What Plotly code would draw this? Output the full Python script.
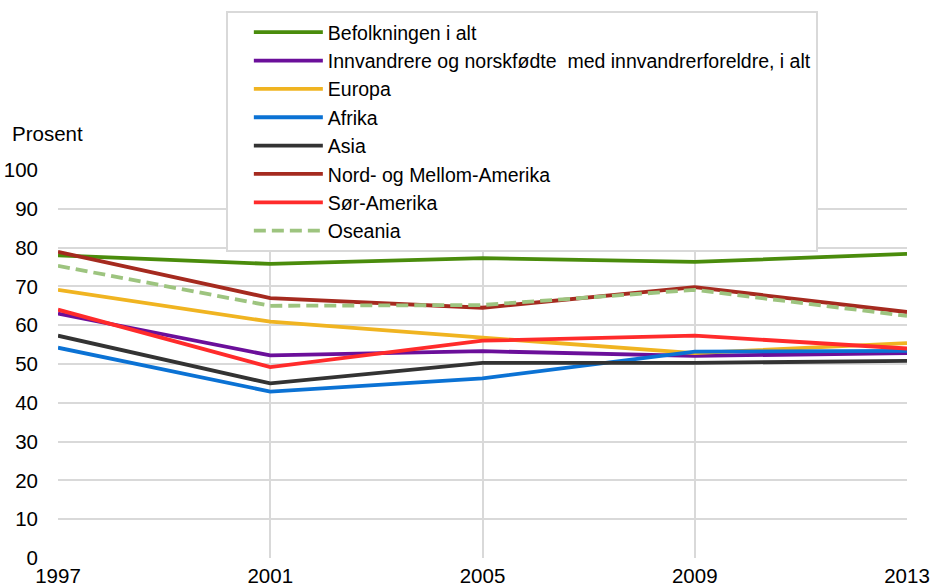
import plotly.graph_objects as go

years = [1997, 2001, 2005, 2009, 2013]

series_names = [
    "Befolkningen i alt",
    "Innvandrere og norskfødte  med innvandrerforeldre, i alt",
    "Europa",
    "Afrika",
    "Asia",
    "Nord- og Mellom-Amerika",
    "Sør-Amerika",
    "Oseania",
]

befolkningen = [78.0, 75.8, 77.3, 76.3, 78.4]
innvandrere = [63.0, 52.2, 53.3, 52.1, 52.8]
europa = [69.1, 60.9, 56.8, 52.8, 55.4]
afrika = [54.2, 42.9, 46.3, 53.2, 53.4]
asia = [57.3, 45.0, 50.3, 50.3, 50.8]
nord_mellom = [78.9, 67.0, 64.5, 69.8, 63.4]
sor_amerika = [64.0, 49.2, 56.0, 57.3, 54.0]
oseania = [75.3, 65.0, 65.2, 69.1, 62.4]

values = [befolkningen, innvandrere, europa, afrika, asia, nord_mellom, sor_amerika, oseania]
colors = ["#4A8C0C", "#6B0F9A", "#F0B421", "#0B72D4", "#333333", "#A52A1F", "#FF2B2B", "#9DC47F"]
dashes = ["solid"] * 7 + ["12px,6px"]

fig = go.Figure()
for name, vals, col, d in zip(series_names, values, colors, dashes):
    fig.add_trace(go.Scatter(
        x=years, y=vals, name=name, mode="lines",
        line=dict(color=col, width=3.8, dash=d),
    ))

W, H = 934, 587
L, R, T, B = 58, 27, 169.5, 28.5
font = "Liberation Sans, Arial, sans-serif"
fig.update_layout(
    width=W, height=H,
    margin=dict(l=L, r=R, t=T, b=B, autoexpand=False),
    paper_bgcolor="white", plot_bgcolor="white",
    font=dict(family=font, size=20, color="#000000"),
    showlegend=True,
    legend=dict(
        xref="container", yref="container",
        x=226 / W, y=1 - 11 / H, xanchor="left", yanchor="top",
        bgcolor="white", bordercolor="#D9D9D9", borderwidth=2,
        font=dict(family=font, size=19.5, color="#000000"),
        itemwidth=69, tracegroupgap=0,
        title=dict(text="&nbsp;&nbsp;", side="left", font=dict(size=19.5)),
    ),
    xaxis=dict(
        range=[1997, 2013], tickvals=years, ticktext=[str(y) for y in years],
        showgrid=True, gridcolor="#D9D9D9", gridwidth=2,
        zeroline=False, showline=False, ticks="", automargin=False,
        tickfont=dict(size=20.5), ticklabelstandoff=3,
    ),
    yaxis=dict(
        range=[0, 100], dtick=10, tick0=0,
        showgrid=True, gridcolor="#D9D9D9", gridwidth=2,
        zeroline=False, showline=False, ticks="", automargin=False,
        tickfont=dict(size=20.5), ticklabelstandoff=19,
    ),
    annotations=[dict(
        text="Prosent",
        x=(10 - L) / (W - L - R), y=(H - B - 133) / (H - T - B),
        xref="paper", yref="paper", xanchor="left", yanchor="middle",
        showarrow=False, font=dict(size=20.5),
    )],
)

fig.write_html(
    "out.html",
    config={"displayModeBar": False},
    post_script="document.body.style.margin='0';",
)
